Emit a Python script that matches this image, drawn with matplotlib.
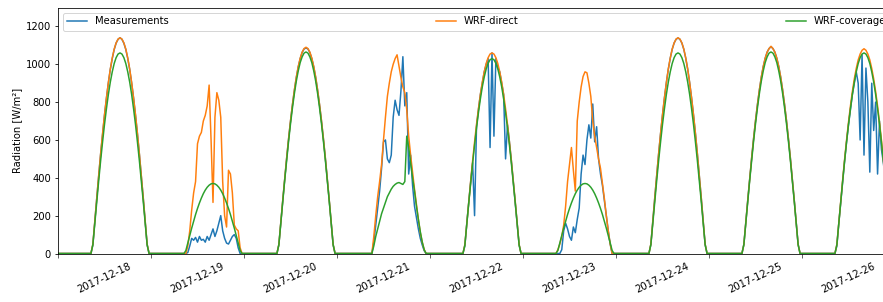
import numpy as np
import pandas as pd
import matplotlib
matplotlib.use('Agg')
import matplotlib.pyplot as plt
import matplotlib.dates as mdates

# half-hourly values (W/m2) from 09:00 to 23:00 for each day, zero at night
meas_18 = [45, 170, 292, 410, 525, 630, 731, 820, 902, 973, 1030, 1078, 1112, 1132, 1140, 1132, 1111, 1078, 1031, 973, 902, 821, 730, 632, 525, 411, 293, 171, 46]
meas_19 = [0, 5, 40, 80, 70, 85, 60, 90, 70, 75, 60, 90, 70, 100, 130, 90, 120, 160, 200, 120, 80, 55, 50, 70, 90, 100, 80, 30, 0]
meas_20 = [46, 164, 280, 393, 502, 604, 699, 785, 862, 930, 986, 1030, 1062, 1081, 1086, 1081, 1062, 1030, 986, 930, 862, 785, 699, 604, 502, 393, 280, 164, 46]
meas_21 = [0, 60, 150, 240, 330, 450, 590, 600, 500, 480, 520, 720, 810, 760, 730, 860, 1040, 780, 850, 420, 520, 360, 250, 190, 130, 80, 45, 15, 0]
meas_22 = [40, 160, 270, 380, 480, 200, 670, 760, 840, 900, 960, 1000, 1030, 560, 1060, 620, 1030, 980, 960, 900, 840, 500, 680, 590, 490, 380, 270, 160, 45]
meas_23 = [0, 0, 20, 120, 160, 130, 90, 70, 140, 110, 180, 240, 420, 520, 470, 600, 680, 610, 790, 590, 670, 500, 420, 360, 280, 200, 120, 50, 0]
meas_24 = [48, 172, 294, 412, 526, 633, 732, 822, 903, 974, 1032, 1079, 1112, 1132, 1139, 1132, 1112, 1079, 1032, 974, 903, 822, 732, 633, 526, 412, 294, 172, 48]
meas_25 = [48, 166, 282, 395, 504, 606, 701, 787, 864, 932, 988, 1032, 1064, 1083, 1093, 1083, 1064, 1032, 988, 932, 864, 787, 701, 606, 504, 395, 282, 166, 48]
meas_26 = [40, 160, 270, 380, 490, 590, 680, 760, 840, 900, 960, 900, 600, 1050, 520, 980, 800, 430, 900, 650, 800, 420, 700, 550, 480, 380, 270, 160, 45]

direct_18 = [50, 173, 295, 413, 527, 634, 733, 823, 904, 975, 1033, 1080, 1113, 1133, 1140, 1133, 1113, 1080, 1033, 975, 904, 823, 733, 634, 527, 413, 295, 173, 50]
direct_19 = [0, 40, 120, 230, 320, 380, 580, 620, 640, 700, 730, 780, 890, 600, 270, 720, 850, 810, 720, 380, 200, 140, 440, 420, 320, 150, 130, 120, 30]
direct_20 = [48, 166, 282, 395, 504, 606, 701, 787, 864, 932, 988, 1032, 1064, 1083, 1090, 1083, 1064, 1032, 988, 932, 864, 787, 701, 606, 504, 395, 282, 166, 48]
direct_21 = [0, 90, 200, 300, 380, 470, 600, 720, 830, 900, 960, 1000, 1030, 1050, 990, 930, 880, 850, 760, 620, 520, 430, 340, 260, 180, 110, 60, 20, 0]
direct_22 = [47, 161, 275, 384, 490, 589, 682, 765, 841, 906, 960, 1004, 1035, 1054, 1060, 1054, 1035, 1004, 960, 906, 841, 765, 682, 589, 490, 384, 275, 161, 47]
direct_23 = [20, 50, 90, 150, 250, 380, 470, 560, 440, 330, 700, 800, 880, 935, 960, 955, 900, 830, 700, 620, 560, 500, 450, 370, 290, 200, 120, 50, 0]
direct_24 = [50, 173, 295, 413, 527, 634, 733, 823, 904, 975, 1033, 1080, 1113, 1133, 1140, 1133, 1113, 1080, 1033, 975, 904, 823, 733, 634, 527, 413, 295, 173, 50]
direct_25 = [48, 166, 282, 395, 504, 606, 701, 787, 864, 932, 988, 1032, 1064, 1083, 1095, 1083, 1064, 1032, 988, 932, 864, 787, 701, 606, 504, 395, 282, 166, 48]
direct_26 = [48, 164, 280, 391, 499, 600, 694, 780, 856, 923, 978, 1023, 1054, 1074, 1082, 1074, 1054, 1023, 978, 923, 856, 780, 694, 600, 499, 391, 280, 164, 48]

cover_18 = [47, 161, 275, 384, 490, 589, 682, 765, 841, 906, 960, 1004, 1035, 1054, 1060, 1054, 1035, 1004, 960, 906, 841, 765, 682, 589, 490, 384, 275, 161, 47]
cover_19 = [16, 56, 96, 134, 171, 206, 238, 267, 293, 316, 335, 350, 361, 368, 370, 368, 361, 350, 335, 316, 293, 267, 238, 206, 171, 134, 96, 56, 16]
cover_20 = [47, 162, 276, 386, 492, 592, 685, 769, 845, 911, 965, 1009, 1039, 1059, 1065, 1059, 1039, 1009, 965, 911, 845, 769, 685, 592, 492, 386, 276, 162, 47]
cover_21 = [0, 40, 90, 130, 170, 210, 240, 270, 300, 320, 340, 355, 365, 372, 375, 370, 365, 380, 620, 560, 480, 400, 330, 250, 180, 115, 60, 20, 0]
cover_22 = [45, 157, 267, 373, 476, 573, 662, 744, 817, 881, 933, 975, 1005, 1024, 1030, 1024, 1005, 975, 933, 881, 817, 744, 662, 573, 476, 373, 267, 157, 45]
cover_23 = [16, 56, 96, 134, 171, 206, 238, 267, 293, 316, 335, 350, 361, 368, 370, 368, 361, 350, 335, 316, 293, 267, 238, 206, 171, 134, 96, 56, 16]
cover_24 = [47, 161, 275, 384, 490, 589, 682, 765, 841, 906, 960, 1004, 1035, 1054, 1060, 1054, 1035, 1004, 960, 906, 841, 765, 682, 589, 490, 384, 275, 161, 47]
cover_25 = [47, 162, 276, 386, 492, 592, 685, 769, 845, 911, 965, 1009, 1039, 1059, 1065, 1059, 1039, 1009, 965, 911, 845, 769, 685, 592, 492, 386, 276, 162, 47]
cover_26 = [47, 161, 275, 384, 490, 589, 682, 765, 841, 906, 960, 1004, 1035, 1054, 1060, 1054, 1035, 1004, 960, 906, 841, 765, 682, 589, 490, 384, 275, 161, 47]

meas_days = [meas_18, meas_19, meas_20, meas_21, meas_22, meas_23, meas_24, meas_25, meas_26]
direct_days = [direct_18, direct_19, direct_20, direct_21, direct_22, direct_23, direct_24, direct_25, direct_26]
cover_days = [cover_18, cover_19, cover_20, cover_21, cover_22, cover_23, cover_24, cover_25, cover_26]


def full_series(day_lists):
    # 00:00-08:30 zeros, 09:00-23:00 values, 23:30 zero; closing zero at the end
    parts = [[0] * 18 + v + [0] for v in day_lists]
    return np.concatenate(parts + [[0]])


meas = full_series(meas_days)
direct = full_series(direct_days)
cover = full_series(cover_days)
times = pd.date_range('2017-12-18 00:00', periods=len(meas), freq='30min')

W, H, DPI = 883, 302, 72
fig = plt.figure(figsize=(W / DPI, H / DPI), dpi=DPI)
ax = fig.add_axes([58 / W, 1 - 253.5 / H, 837 / W, 246 / H])

ax.plot(times, meas, label='Measurements')
ax.plot(times, direct, label='WRF-direct')
ax.plot(times, cover, label='WRF-coverage')

ax.set_xlim(pd.Timestamp('2017-12-18'), pd.Timestamp('2017-12-27'))
ax.set_ylim(0, 1300)
ax.set_yticks([0, 200, 400, 600, 800, 1000, 1200])
ax.set_ylabel('Radiation [W/m²]')

# labels at noon, tick marks at midnight
ax.xaxis.set_major_locator(mdates.HourLocator(byhour=12))
ax.xaxis.set_major_formatter(mdates.DateFormatter('%Y-%m-%d'))
ax.xaxis.set_minor_locator(mdates.DayLocator())
ax.tick_params(axis='x', which='major', length=0, pad=8)
ax.tick_params(axis='x', which='minor', length=3.5)
for lbl in ax.get_xticklabels():
    lbl.set_rotation(25)
    lbl.set_ha('center')

ax.legend(loc='upper left', ncol=3, mode='expand')

fig.savefig('out.png', dpi=DPI)
